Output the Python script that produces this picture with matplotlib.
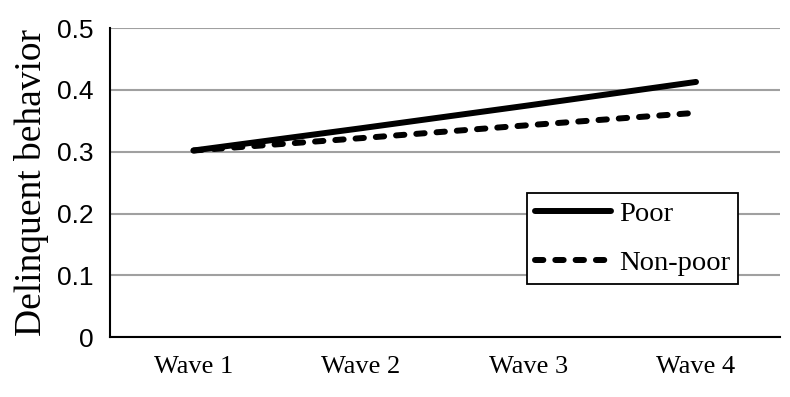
import matplotlib
matplotlib.use("Agg")
import matplotlib.pyplot as plt

waves = ["Wave 1", "Wave 2", "Wave 3", "Wave 4"]
poor = [0.302, 0.338, 0.375, 0.413]
non_poor = [0.302, 0.322, 0.343, 0.363]
yticks = [0, 0.1, 0.2, 0.3, 0.4, 0.5]
ytick_labels = ["0", "0.1", "0.2", "0.3", "0.4", "0.5"]

fig = plt.figure(figsize=(7.9, 3.97), dpi=100)
ax = fig.add_axes([0.139, 0.151, 0.848, 0.778])

x = list(range(len(waves)))
ax.plot(x, poor, color="black", lw=4.3, solid_capstyle="round", label="Poor")
ax.plot(x, non_poor, color="black", lw=4.3, linestyle=(0, (1.4, 2.0)),
        dash_capstyle="round", label="Non-poor")

ax.set_xlim(-0.5, 3.5)
ax.set_ylim(0, 0.5)
ax.set_yticks(yticks)
ax.set_yticklabels(ytick_labels, fontfamily="Liberation Sans", fontsize=19)
ax.set_xticks(x)
ax.set_xticklabels(waves, fontfamily="Liberation Serif", fontsize=19)
ax.tick_params(axis="x", length=0, pad=14)
ax.tick_params(axis="y", length=0, pad=11.5)
ax.grid(axis="y", color="#a0a0a0", lw=1.5)
ax.set_axisbelow(True)
for s in ["top", "right"]:
    ax.spines[s].set_visible(False)
ax.spines["left"].set_linewidth(1.5)
ax.spines["bottom"].set_linewidth(1.5)
ax.set_ylabel("Delinquent behavior", fontfamily="Liberation Serif", fontsize=27, labelpad=6)

leg = ax.legend(loc="upper left", bbox_to_anchor=(0.623, 0.466), fancybox=False,
                framealpha=1, edgecolor="black", handlelength=2.65,
                prop={"family": "Liberation Serif", "size": 20.5}, labelspacing=0.8,
                borderpad=0.28, handletextpad=0.3, borderaxespad=0)
leg.get_frame().set_linewidth(1.3)

fig.savefig("out.png", dpi=100)
